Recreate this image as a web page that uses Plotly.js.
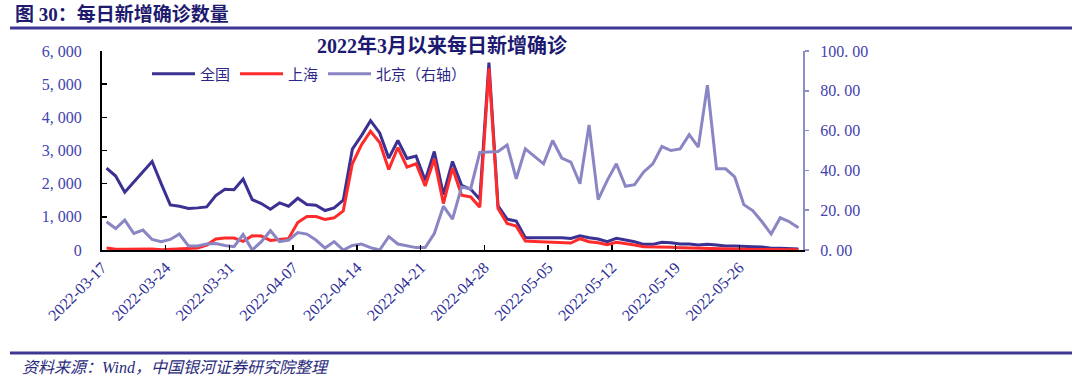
<!DOCTYPE html>
<html><head><meta charset="utf-8">
<script src="https://cdn.plot.ly/plotly-3.0.1.min.js"></script>
<style>html,body{margin:0;padding:0;background:#fff;}#chart{width:1080px;height:387px;}</style>
</head><body><div id="chart"></div>
<script>
// ---- data (daily new confirmed cases, starting 2022-03-17) ----
const startDate = '2022-03-17';
const seriesNames = ['全国', '上海', '北京（右轴）'];
const national = [2470,2230,1740,2050,2350,2670,2000,1360,1320,1250,1270,1300,1640,1830,1820,2140,1520,1400,1230,1420,1320,
  1560,1370,1350,1190,1270,1500,3040,3450,3900,3530,2770,3300,2760,2830,2100,2970,1670,2670,1950,1830,1530,
  5650,1330,930,870,370,370,380,380,370,350,430,370,330,250,350,300,250,170,170,230,220,
  180,180,150,170,150,120,120,100,100,90,50,50,40,30];
const shanghai = [60,20,20,30,40,30,10,20,30,40,60,150,330,360,360,260,430,420,290,320,350,
  830,1010,1010,920,970,1180,2600,3170,3580,3240,2430,3090,2500,2600,1930,2740,1400,2470,1650,1600,1290,
  5480,1250,800,720,270,260,250,250,230,210,340,250,220,160,230,200,150,100,100,100,80,
  70,60,50,50,40,30,25,20,15,10,5,5,5,5];
const beijing = [14.2,10.8,15,8.3,10,5.3,4.2,5.3,8,2,2,3,3.3,2.3,1.7,7.8,0,4.2,9.7,4.2,5,
  8.8,8,5,1,4.2,0,2.3,3,1.2,0,6.7,3,2,1.2,1.2,8.3,22,15.5,31.7,30.8,49,
  49.3,49.5,52.8,35.8,50.8,47,43.3,55,46.2,44.2,33.3,62.8,25.3,35,43.3,32,32.8,39.2,43.3,52,50,
  50.8,58,51.7,82.8,40.8,40.8,36.7,22.8,19.7,14.2,8,16.2,14.2,11.2];
const xTickLabels = ['2022-03-17','2022-03-24','2022-03-31','2022-04-07','2022-04-14','2022-04-21','2022-04-28','2022-05-05','2022-05-12','2022-05-19','2022-05-26'];
const yLeftVals = [0,1000,2000,3000,4000,5000,6000];
const yLeftText = ['0','1, 000','2, 000','3, 000','4, 000','5, 000','6, 000'];
const yRightVals = [0,20,40,60,80,100];
const yRightText = ['0. 00','20. 00','40. 00','60. 00','80. 00','100. 00'];
const headerText = '图 30：每日新增确诊数量';
const chartTitle = '2022年3月以来每日新增确诊';
const sourceText = '资料来源：Wind，中国银河证券研究院整理';

// ---- helpers ----
function addDays(s, n){ const d = new Date(s + 'T00:00:00Z'); d.setUTCDate(d.getUTCDate() + n); return d.toISOString().slice(0,10); }
const dates = national.map((_, i) => addDays(startDate, i));
const halfBefore = s => addDays(s, -1) + ' 12:00';
const L = 102, R = 803, T = 51, B = 250;
const px = X => (X - L) / (R - L);
const py = Y => (B - Y) / (B - T);

const serif = '"Liberation Serif", "Times New Roman", "Noto Sans CJK SC", serif';
const cjk = '"Liberation Serif", "Noto Sans CJK SC", sans-serif';
const navy = '#2B2788';
const tickBlue = '#4343AE';

const traces = [
  {x: dates, y: national, name: seriesNames[0], type: 'scatter', mode: 'lines', line: {color: '#3A3192', width: 3}},
  {x: dates, y: shanghai, name: seriesNames[1], type: 'scatter', mode: 'lines', line: {color: '#FF2B2B', width: 3}},
  {x: dates, y: beijing, name: seriesNames[2], type: 'scatter', mode: 'lines', yaxis: 'y2', line: {color: '#8A85C3', width: 3}}
];

const layout = {
  width: 1080, height: 387,
  margin: {l: L, r: 1080 - R, t: T, b: 387 - B, pad: 0},
  paper_bgcolor: '#fff', plot_bgcolor: '#fff',
  showlegend: true,
  title: {text: '<b>' + chartTitle + '</b>', x: 442/1080, xanchor: 'center', y: 1 - 46/387, yanchor: 'middle',
          font: {family: cjk, size: 20, color: '#1C1A70'}},
  xaxis: {type: 'date', range: [halfBefore(startDate), dates[dates.length-1] + ' 12:00'],
          tickvals: xTickLabels.map(halfBefore), ticktext: xTickLabels, tickangle: -45,
          ticks: 'inside', ticklen: 5, tickcolor: '#000', tickwidth: 1.5,
          showline: true, linecolor: '#000', linewidth: 2, showgrid: false, zeroline: false,
          tickfont: {family: serif, size: 16, color: '#2E2E96'}},
  yaxis: {range: [0, 6000], tickvals: yLeftVals, ticktext: yLeftText,
          ticks: 'inside', ticklen: 5, tickcolor: '#000', tickwidth: 1.5,
          showline: true, linecolor: '#000', linewidth: 2, showgrid: false, zeroline: false,
          ticklabelstandoff: 15,
          tickfont: {family: serif, size: 16, color: tickBlue}},
  yaxis2: {range: [0, 100], overlaying: 'y', side: 'right', tickvals: yRightVals, ticktext: yRightText,
          ticks: 'outside', ticklen: 4, tickcolor: '#8C8CC6', tickwidth: 1.5,
          showline: true, linecolor: '#8C8CC6', linewidth: 2, showgrid: false, zeroline: false,
          ticklabelstandoff: 8,
          tickfont: {family: serif, size: 16, color: tickBlue}},
  legend: {orientation: 'h', x: px(147), xanchor: 'left', y: py(74), yanchor: 'middle',
           itemwidth: 43,
           bgcolor: 'rgba(0,0,0,0)', font: {family: cjk, size: 15, color: navy},
           traceorder: 'normal'},
  shapes: [
    {type: 'line', xref: 'paper', yref: 'paper', x0: px(10), x1: px(1072), y0: py(28), y1: py(28), line: {color: '#3F3794', width: 3}},
    {type: 'line', xref: 'paper', yref: 'paper', x0: px(10), x1: px(1072), y0: py(353), y1: py(353), line: {color: '#3F3794', width: 3}}
  ],
  annotations: [
    {text: '<b>' + headerText + '</b>', xref: 'paper', yref: 'paper', x: px(13), y: py(14), xanchor: 'left', yanchor: 'middle',
     showarrow: false, font: {family: cjk, size: 19, color: '#1E1A6E'}},
    {text: '<i>' + sourceText + '</i>', xref: 'paper', yref: 'paper', x: px(20), y: py(367), xanchor: 'left', yanchor: 'middle',
     showarrow: false, font: {family: cjk, size: 16, color: '#2A2A7A'}}
  ]
};

Plotly.newPlot('chart', traces, layout, {staticPlot: true, displayModeBar: false});
</script></body></html>
